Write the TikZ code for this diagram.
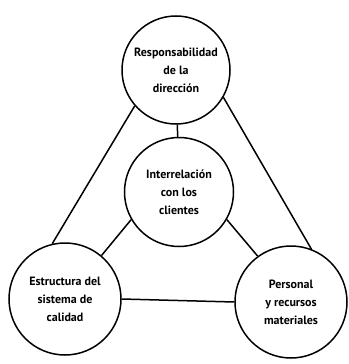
\documentclass[tikz,border=0pt]{standalone}
\usepackage{fontspec}
\setmainfont{PT Sans}
\usepackage{tikz}
\usetikzlibrary{positioning}

\begin{document}
\begin{tikzpicture}[x=1pt, y=-1pt, line width=1.5pt,
    area/.style={draw, circle, inner sep=0pt, align=center,
        font=\bfseries\fontsize{12}{18}\selectfont}]
    \useasboundingbox (0,0) rectangle (348,364);

    % Direction
    \node[area, minimum size=108pt] (resp) at (176,70) {Responsabilidad\\de la\\dirección};

    % Clients
    \node[area, minimum size=109pt] (inter) at (179,192) {Interrelación\\con los\\clientes};

    % Quality system
    \node[area, minimum size=112pt] (estr) at (65,299) {Estructura del\\sistema de\\calidad};

    % Resources
    \node[area, minimum size=112pt] (pers) at (291,302) {Personal\\y recursos\\materiales};

    % Links
    \draw (resp) -- (inter);
    \draw (resp.221) -- (estr.103);
    \draw (resp.330) -- (pers.69);
    \draw (inter.210) -- (estr.50);
    \draw (inter.330) -- (pers.126);
    \draw (estr.east) -- (pers.west);
\end{tikzpicture}
\end{document}
